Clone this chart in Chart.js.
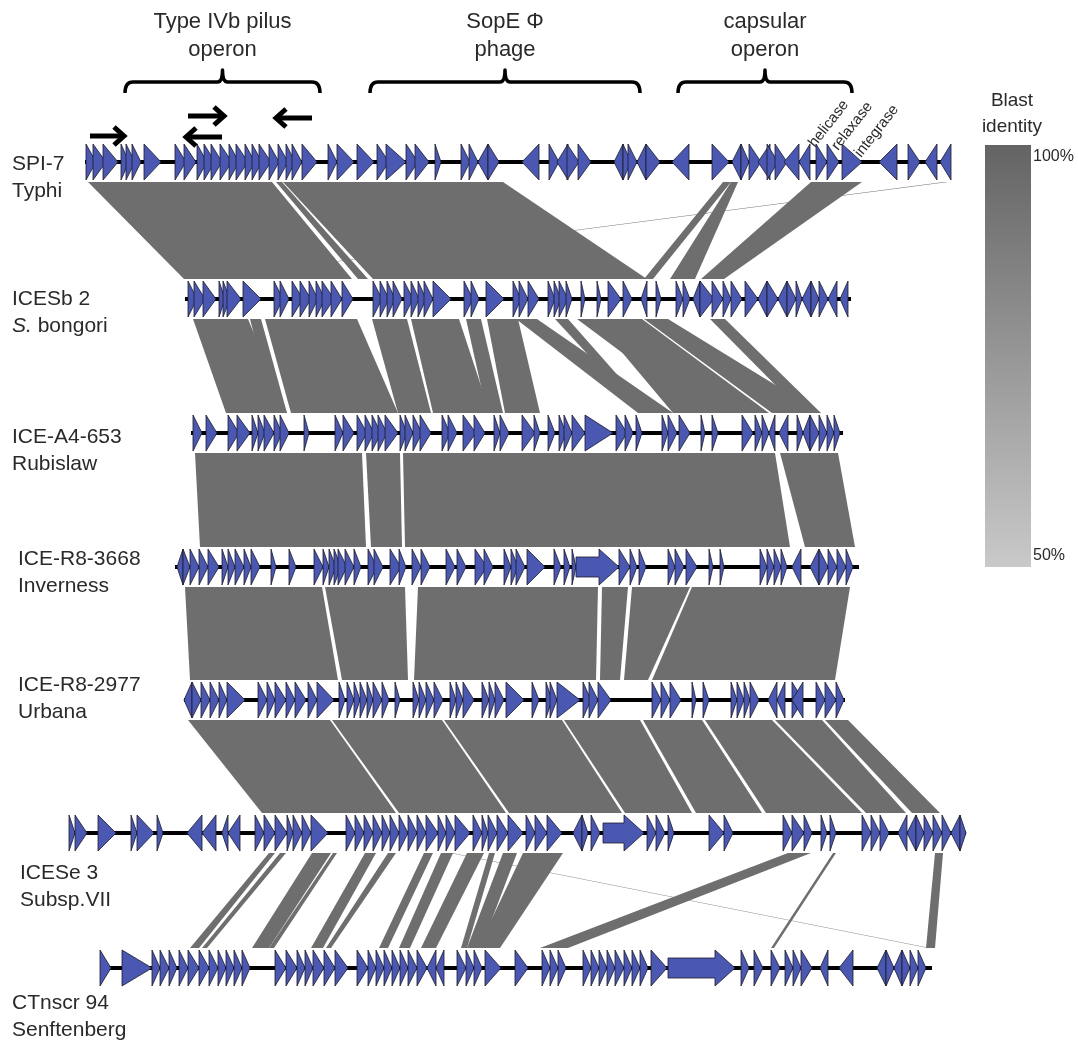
<!DOCTYPE html>
<html>
<head>
<meta charset="utf-8">
<title>ICE comparison</title>
<script src="https://cdn.jsdelivr.net/npm/chart.js@4.4.0/dist/chart.umd.min.js"></script>
<style>
  html, body { margin: 0; padding: 0; background: #fff; }
  #wrap { width: 1078px; height: 1041px; }
</style>
</head>
<body>
<div id="wrap"><canvas id="iceChart" width="1078" height="1041"></canvas></div>
<script>
// ---- track labels / positions (x in map units, y = row centre) ----
const trackNames = ['SPI-7', 'ICESb 2', 'ICE-A4-653', 'ICE-R8-3668', 'ICE-R8-2977', 'ICESe 3', 'CTnscr 94'];
const trackHosts = ['Typhi', 'S. bongori', 'Rubislaw', 'Inverness', 'Urbana', 'Subsp.VII', 'Senftenberg'];
const trackRows = [162, 299, 433, 567, 700, 833, 968];
const trackSpans = [[85, 951], [185, 851], [191, 843], [175, 859], [184, 845], [69, 966], [100, 932]];

// ---- genes: [start, end]; end < start means reverse strand ----
const genesSPI7 = [[86,96],[93,106],[103,118],[121,129],[126,135],[132,141],[144,161],[175,186],[184,196],
  [197,207],[204,215],[211,222],[220,232],[229,239],[236,248],[245,255],[252,262],[259,271],[269,279],
  [278,288],[286,295],[292,302],[302,317],[328,337],[337,354],[357,374],[377,389],[386,406],[406,418],
  [415,429],[435,441],[461,470],[469,478],[488,478],[488,499],[539,522],[549,559],[568,557],[567,579],
  [578,591],[623,614],[623,631],[628,637],[646,637],[646,660],[689,672],[712,729],[741,732],[741,749],
  [749,761],[770,758],[767,778],[775,787],[799,784],[810,799],[816,827],[827,839],[842,862],[897,879],
  [908,920],[937,925],[951,940]];
const genesICESb2 = [[188,197],[194,205],[203,216],[219,225],[223,230],[227,241],[243,261],[274,283],
  [280,289],[292,303],[300,311],[309,318],[316,325],[322,334],[331,342],[342,353],[373,382],[380,389],
  [387,395],[393,402],[404,413],[411,419],[418,426],[424,433],[433,451],[464,473],[471,479],[486,504],
  [513,521],[519,528],[528,539],[548,555],[554,561],[559,568],[566,572],[581,585],[597,601],[608,621],
  [623,632],[647,641],[656,661],[676,683],[683,690],[700,693],[700,714],[712,723],[723,731],[731,742],
  [745,758],[767,758],[767,778],[787,778],[787,796],[796,802],[811,802],[811,819],[819,828],[837,828],
  [848,840]];
const genesA4653 = [[193,202],[206,217],[228,239],[237,250],[252,258],[258,265],[264,274],[274,282],
  [280,289],[304,309],[335,343],[343,354],[357,367],[365,374],[372,381],[378,387],[385,398],[400,407],
  [405,413],[413,422],[420,431],[442,450],[448,457],[463,476],[474,485],[494,500],[500,509],[522,535],
  [534,540],[548,555],[559,566],[564,572],[572,585],[585,613],[616,627],[625,633],[636,642],[662,668],
  [668,677],[679,690],[701,705],[712,718],[742,753],[755,762],[762,769],[775,769],[788,779],[797,803],
  [810,803],[810,819],[819,827],[827,834],[834,840]];
const genesR83668 = [[183,177],[183,190],[190,199],[199,208],[208,219],[222,228],[228,235],[235,244],
  [244,251],[251,260],[271,276],[289,296],[314,323],[323,329],[329,336],[334,341],[338,347],[345,354],
  [354,361],[368,377],[374,383],[390,401],[399,406],[412,421],[421,430],[446,455],[457,466],[475,487],
  [484,493],[504,511],[511,518],[516,525],[527,545],[554,561],[564,570],[572,576],[576,619],[619,630],
  [630,637],[639,646],[668,675],[675,684],[686,697],[709,713],[720,724],[760,767],[767,774],[774,781],
  [781,787],[801,792],[819,810],[819,828],[828,837],[837,846],[846,853]];
const genesR82977 = [[192,184],[192,201],[201,210],[210,219],[219,227],[227,245],[258,267],[267,275],
  [275,286],[286,295],[295,306],[308,317],[317,334],[339,345],[347,354],[354,360],[360,367],[367,373],
  [373,382],[382,389],[395,400],[413,419],[419,426],[426,434],[434,443],[450,456],[456,463],[463,474],
  [482,489],[489,495],[495,504],[506,524],[532,539],[546,552],[550,557],[557,580],[583,591],[589,598],
  [598,611],[652,661],[661,670],[670,681],[692,696],[703,709],[731,737],[737,744],[744,750],[750,759],
  [777,768],[785,777],[792,803],[803,792],[816,825],[825,836],[836,844]];
const genesICESe3 = [[69,75],[75,87],[98,116],[131,137],[137,154],[157,163],[202,187],[216,202],[228,222],
  [240,228],[255,264],[264,275],[275,287],[287,293],[293,302],[302,311],[311,328],[346,355],[355,364],
  [364,373],[373,382],[382,390],[390,399],[399,408],[408,417],[417,426],[426,438],[438,446],[446,455],
  [455,470],[473,482],[482,488],[488,497],[497,508],[508,523],[526,535],[535,547],[547,562],[582,573],
  [582,588],[591,600],[603,644],[647,656],[656,665],[668,674],[709,724],[724,733],[783,792],[792,804],
  [804,812],[821,827],[830,836],[862,871],[871,880],[880,889],[907,898],[916,907],[916,924],[924,933],
  [933,942],[942,951],[960,951],[960,966]];
const genesCTnscr94 = [[100,111],[122,152],[152,160],[160,169],[169,177],[179,188],[188,199],[199,209],
  [209,218],[218,226],[226,234],[234,242],[242,250],[275,286],[286,297],[297,305],[305,313],[313,324],
  [324,335],[335,348],[357,368],[368,376],[376,384],[384,392],[392,400],[400,408],[408,417],[417,427],
  [436,427],[444,436],[457,466],[466,474],[474,482],[485,501],[515,528],[542,550],[550,558],[558,566],
  [583,591],[591,599],[599,607],[607,615],[615,624],[624,632],[632,640],[640,648],[651,667],[668,735],
  [741,749],[754,763],[771,780],[785,793],[793,801],[801,812],[828,820],[853,839],[886,877],[886,894],
  [902,894],[902,910],[910,918],[918,926]];
const trackGenes = [genesSPI7, genesICESb2, genesA4653, genesR83668, genesR82977, genesICESe3, genesCTnscr94];

// ---- BLAST hits between neighbouring rows: [upperStart, upperEnd, lowerStart, lowerEnd] ----
const hits12 = [[944,948,200,203],[88,272,184,352],[276,282,358,368],[283,503,373,647],[723,731,644,653],
  [731,738,670,695],[811,862,701,724]];
const hits23 = [[193,248,226,287],[250,261,274,287],[265,357,291,398],[372,407,398,431],[411,459,433,490],
  [466,481,487,503],[487,518,505,540],[516,537,638,673],[555,568,642,651],[577,594,703,716],
  [594,642,673,769],[644,668,772,821],[710,725,803,821]];
const hits34 = [[195,362,200,366],[366,400,371,402],[403,775,405,790],[780,838,805,855]];
const hits45 = [[185,322,190,338],[325,405,342,408],[418,598,414,596],[602,628,600,620],[632,690,624,648],
  [692,850,652,835]];
const hits56 = [[188,330,262,396],[332,442,399,506],[444,562,509,622],[564,640,625,692],[643,702,696,762],
  [705,772,766,862],[775,822,866,906],[825,848,912,940]];
const hits67 = [[269,275,190,199],[280,286,202,207],[312,331,252,269],[333,337,269,274],[365,376,311,323],
  [388,396,326,331],[424,433,379,388],[441,453,399,410],[467,484,421,436],[489,495,461,467],
  [503,517,467,481],[523,563,478,500],[450,452,928,930],[788,811,540,568],[833,836,771,774],
  [935,943,926,935]];
const trackHits = [hits12, hits23, hits34, hits45, hits56, hits67];

// ---- annotations ----
const regionNames = [['Type IVb pilus', 'operon'], ['SopE \u03a6', 'phage'], ['capsular', 'operon']];
const regionSpans = [[125, 320], [370, 640], [678, 852]];
const geneTags = ['helicase', 'relaxase', 'integrase'];
const geneTagAt = [[815, 148], [838, 151], [861, 158]];
const pilusArrows = [[90, 124, 136], [188, 224, 116], [222, 186, 137], [312, 276, 118]];
const identityTicks = ['100%', '50%'];

const LABEL_FONT = '"Liberation Sans", Arial, sans-serif';

/**
 * Draws everything on the canvas through the chart's x/y scales
 */
const genomePlugin = {
  id: 'genomeMap',
  afterDatasetsDraw(chart) {
    const ctx = chart.ctx;
    const X = v => chart.scales.x.getPixelForValue(v);
    const Y = v => chart.scales.y.getPixelForValue(v);

    // blast bands first
    ctx.save();
    ctx.fillStyle = '#6e6e6e';
    trackHits.forEach((hits, i) => {
      const yTop = Y(trackRows[i] + 20);
      const yBot = Y(trackRows[i + 1] - 20);
      hits.forEach(h => {
        ctx.beginPath();
        ctx.moveTo(X(h[0]), yTop);
        ctx.lineTo(X(h[1]), yTop);
        ctx.lineTo(X(h[3]), yBot);
        ctx.lineTo(X(h[2]), yBot);
        ctx.closePath();
        ctx.fill();
      });
    });
    ctx.restore();

    // backbone lines + gene arrows
    trackRows.forEach((row, i) => {
      const yc = Y(row);
      ctx.save();
      ctx.strokeStyle = '#000';
      ctx.lineWidth = 4;
      ctx.beginPath();
      ctx.moveTo(X(trackSpans[i][0]), yc);
      ctx.lineTo(X(trackSpans[i][1]), yc);
      ctx.stroke();

      ctx.fillStyle = '#4b58b2';
      ctx.strokeStyle = '#1b1b2a';
      ctx.lineWidth = 0.8;
      ctx.lineJoin = 'miter';
      trackGenes[i].forEach(g => {
        const a = X(g[0]), b = X(g[1]);
        const dir = b > a ? 1 : -1;
        const len = Math.abs(b - a);
        const h = Math.abs(Y(row + 18) - yc);
        ctx.beginPath();
        if (len > 30) {
          const body = Math.abs(Y(row + 10) - yc);
          const neck = b - dir * 20;
          ctx.moveTo(a, yc - body);
          ctx.lineTo(neck, yc - body);
          ctx.lineTo(neck, yc - h);
          ctx.lineTo(b, yc);
          ctx.lineTo(neck, yc + h);
          ctx.lineTo(neck, yc + body);
          ctx.lineTo(a, yc + body);
        } else {
          ctx.moveTo(a, yc - h);
          ctx.lineTo(b, yc);
          ctx.lineTo(a, yc + h);
        }
        ctx.closePath();
        ctx.fill();
        ctx.stroke();
      });
      ctx.restore();
    });

    // row labels
    ctx.save();
    ctx.fillStyle = '#2a2a2a';
    ctx.textBaseline = 'middle';
    const labelX = [12, 12, 12, 18, 18, 20, 12];
    const nameY = [164, 299, 437, 559, 685, 873, 1003];
    trackNames.forEach((name, i) => {
      ctx.font = '21px ' + LABEL_FONT;
      ctx.fillText(name, X(labelX[i]), Y(nameY[i]));
      const host = trackHosts[i];
      const hy = Y(nameY[i] + 27);
      if (host.startsWith('S. ')) {
        ctx.font = 'italic 21px ' + LABEL_FONT;
        ctx.fillText('S.', X(labelX[i]), hy);
        const w = ctx.measureText('S.').width;
        ctx.font = '21px ' + LABEL_FONT;
        ctx.fillText(host.slice(2), X(labelX[i]) + w, hy);
      } else {
        ctx.fillText(host, X(labelX[i]), hy);
      }
    });
    ctx.restore();

    // region headers + braces
    ctx.save();
    ctx.fillStyle = '#2a2a2a';
    ctx.textAlign = 'center';
    ctx.textBaseline = 'middle';
    ctx.font = '22px ' + LABEL_FONT;
    ctx.strokeStyle = '#000';
    ctx.lineWidth = 3.5;
    ctx.lineJoin = 'round';
    regionSpans.forEach((s, i) => {
      const mid = (s[0] + s[1]) / 2;
      ctx.fillText(regionNames[i][0], X(mid), Y(22));
      ctx.fillText(regionNames[i][1], X(mid), Y(50));
      const yb = Y(82);
      ctx.beginPath();
      ctx.moveTo(X(s[0]), Y(93));
      ctx.quadraticCurveTo(X(s[0]), yb, X(s[0] + 8), yb);
      ctx.lineTo(X(mid - 5), yb);
      ctx.quadraticCurveTo(X(mid), yb, X(mid), Y(70));
      ctx.quadraticCurveTo(X(mid), yb, X(mid + 5), yb);
      ctx.lineTo(X(s[1] - 8), yb);
      ctx.quadraticCurveTo(X(s[1]), yb, X(s[1]), Y(93));
      ctx.stroke();
    });
    ctx.restore();

    // slanted gene tags
    ctx.save();
    ctx.fillStyle = '#2a2a2a';
    ctx.font = '15px ' + LABEL_FONT;
    geneTags.forEach((t, i) => {
      ctx.save();
      ctx.translate(X(geneTagAt[i][0]), Y(geneTagAt[i][1]));
      ctx.rotate(-52 * Math.PI / 180);
      ctx.fillText(t, 0, 0);
      ctx.restore();
    });
    ctx.restore();

    // bold direction arrows above SPI-7
    ctx.save();
    ctx.strokeStyle = '#000';
    ctx.lineWidth = 5;
    ctx.lineJoin = 'miter';
    pilusArrows.forEach(p => {
      const dir = p[1] > p[0] ? 1 : -1;
      const y = Y(p[2]);
      ctx.beginPath();
      ctx.moveTo(X(p[0]), y);
      ctx.lineTo(X(p[1]) - dir * 2, y);
      ctx.stroke();
      ctx.beginPath();
      ctx.moveTo(X(p[1] - dir * 10), Y(p[2] - 9));
      ctx.lineTo(X(p[1]), y);
      ctx.lineTo(X(p[1] - dir * 10), Y(p[2] + 9));
      ctx.stroke();
    });
    ctx.restore();

    // identity colour bar
    ctx.save();
    const x0 = X(985), x1 = X(1031), y0 = Y(145), y1 = Y(567);
    const grad = ctx.createLinearGradient(0, y0, 0, y1);
    grad.addColorStop(0, '#646464');
    grad.addColorStop(1, '#c9c9c9');
    ctx.fillStyle = grad;
    ctx.fillRect(x0, y0, x1 - x0, y1 - y0);
    ctx.fillStyle = '#2a2a2a';
    ctx.textAlign = 'center';
    ctx.textBaseline = 'middle';
    ctx.font = '19px ' + LABEL_FONT;
    ctx.fillText('Blast', X(1012), Y(101));
    ctx.fillText('identity', X(1012), Y(127));
    ctx.textAlign = 'left';
    ctx.font = '16px ' + LABEL_FONT;
    ctx.fillText(identityTicks[0], X(1033), Y(157));
    ctx.fillText(identityTicks[1], X(1033), Y(556));
    ctx.restore();
  }
};

document.addEventListener('DOMContentLoaded', function() {
  const ctx = document.getElementById('iceChart').getContext('2d');
  new Chart(ctx, {
    type: 'scatter',
    data: { datasets: [{ data: [], pointRadius: 0 }] },
    options: {
      responsive: false,
      animation: false,
      devicePixelRatio: 1,
      layout: { padding: 0 },
      plugins: { legend: { display: false }, tooltip: { enabled: false } },
      scales: {
        x: { type: 'linear', min: 0, max: 1078, display: false },
        y: { type: 'linear', min: 0, max: 1041, reverse: true, display: false }
      }
    },
    plugins: [genomePlugin]
  });
});
</script>
</body>
</html>
